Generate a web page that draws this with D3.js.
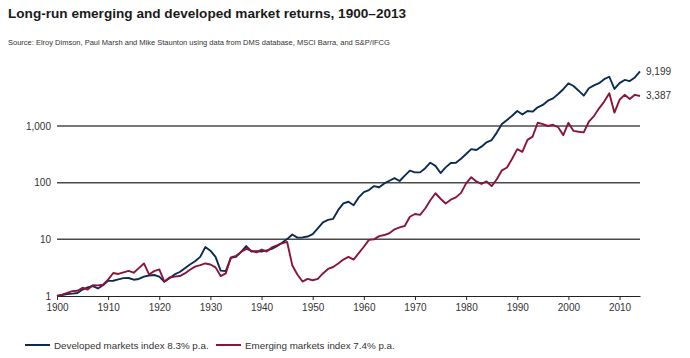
<!DOCTYPE html>
<html><head><meta charset="utf-8">
<script src="https://cdn.jsdelivr.net/npm/d3@7"></script>
<style>
body{margin:0;background:#fff;}
svg text{font-family:"Liberation Sans",Arial,sans-serif;}
</style></head>
<body><svg id="c" width="690" height="358"></svg>
<script>
const years = d3.range(1900, 2015);
const developed = [1.0,1.04,1.08,1.10,1.13,1.30,1.42,1.50,1.36,1.55,
1.85,1.86,1.97,2.07,2.08,1.94,2.00,2.20,2.30,2.35,
2.20,1.78,2.05,2.40,2.65,3.1,3.6,4.1,4.9,7.3,
6.3,4.9,2.8,2.75,4.7,4.9,6.0,7.6,6.1,6.2,
6.1,6.4,6.8,7.6,8.7,10.1,12.2,10.7,10.8,11.2,
12.3,15.6,20,22,23,33,43,46,40,55,
68,74,87,83,97,108,120,107,133,163,
152,152,180,225,198,148,186,222,225,265,
320,390,377,432,515,565,765,1085,1280,1520,
1840,1600,1840,1790,2140,2350,2800,3070,3670,4460,
5650,5080,4200,3430,4630,5200,5700,6700,7400,4500,
5700,6500,6200,7200,9199];
const emerging = [1.0,1.06,1.14,1.22,1.24,1.40,1.30,1.55,1.54,1.58,
1.95,2.55,2.45,2.62,2.78,2.58,3.1,3.75,2.4,2.75,
2.95,1.8,2.12,2.2,2.25,2.5,2.9,3.3,3.5,3.75,
3.6,3.2,2.25,2.5,4.8,5.1,6.0,6.8,6.3,5.9,
6.6,6.1,7.2,7.8,8.5,9.0,3.5,2.4,1.8,2.0,
1.9,2.0,2.5,3.0,3.25,3.75,4.4,4.9,4.4,5.7,
7.4,9.8,10,11.4,11.9,12.8,15,16.3,17.2,25,
28,27,35,49,65,52,43,50,55,66,
97,125,105,95,105,87,115,165,185,265,
390,350,570,650,1140,1080,1000,1050,950,690,
1140,820,790,770,1190,1500,2050,2700,3770,1720,
2900,3550,3000,3550,3387];
const xTicks = d3.range(1900, 2011, 10);
const yTicks = [1, 10, 100, 1000];
const gridValues = [10, 100, 1000];
const seriesNames = ["Developed markets index 8.3% p.a.", "Emerging markets index 7.4% p.a."];
const endLabels = ["9,199", "3,387"];
const colors = ["#0c2b50", "#8b1538"];

const svg = d3.select("#c");
const x = d3.scaleLinear().domain([1900, 2014]).range([57, 640]);
const y = d3.scaleLog().domain([1, 1000]).range([296, 126]);

svg.append("text").attr("x", 8).attr("y", 18).attr("font-size", 13.6).attr("font-weight", "bold")
  .attr("fill", "#1a1a1a").text("Long-run emerging and developed market returns, 1900–2013");
svg.append("text").attr("x", 8).attr("y", 45).attr("font-size", 7.5).attr("fill", "#333")
  .text("Source:  Elroy Dimson, Paul Marsh and Mike Staunton using data from DMS database, MSCI Barra, and S&P/IFCG");

// gridlines
svg.append("g").selectAll("line").data(gridValues).join("line")
  .attr("x1", x(1900)).attr("x2", x(2014))
  .attr("y1", d => y(d)).attr("y2", d => y(d))
  .attr("stroke", "#4a4a4a").attr("stroke-width", 1.5);

// y labels
svg.append("g").selectAll("text").data(yTicks).join("text")
  .attr("x", 51).attr("y", d => y(d) + 3.5).attr("text-anchor", "end")
  .attr("font-size", 10).attr("fill", "#333").text(d => d3.format(",")(d));

// x axis
const xAxis = svg.append("g").attr("transform", "translate(0,296)")
  .call(d3.axisBottom(x).tickValues(xTicks).tickFormat(d3.format("d")).tickSize(4).tickSizeOuter(0));
xAxis.select(".domain").attr("stroke", "#222").attr("stroke-width", 1.2);
xAxis.selectAll(".tick line").attr("stroke", "#222");
xAxis.selectAll(".tick text").attr("font-size", 10).attr("fill", "#333")
  .attr("font-family", "Liberation Sans, Arial, sans-serif").attr("y", 6).attr("dy", "0.85em");

// lines
const line = d3.line().x((d, i) => x(years[i])).y(d => y(d));
[developed, emerging].forEach((s, k) => {
  svg.append("path").datum(s).attr("d", line).attr("fill", "none")
    .attr("stroke", colors[k]).attr("stroke-width", 1.9).attr("stroke-linejoin", "round");
  svg.append("text").attr("x", 646).attr("y", y(s[s.length - 1]) + 3.5)
    .attr("font-size", 10).attr("fill", "#333").text(endLabels[k]);
});

// legend
const lx = [25, 216];
seriesNames.forEach((n, k) => {
  svg.append("line").attr("x1", lx[k]).attr("x2", lx[k] + 25).attr("y1", 345).attr("y2", 345)
    .attr("stroke", colors[k]).attr("stroke-width", 2);
  svg.append("text").attr("x", lx[k] + 29).attr("y", 348.5).attr("font-size", 9.8)
    .attr("fill", "#333").text(n);
});
</script></body></html>
